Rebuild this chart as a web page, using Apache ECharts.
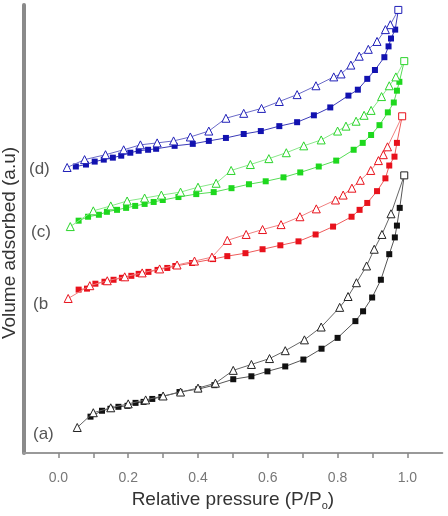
<!DOCTYPE html>
<html lang="en">
<head>
  <meta charset="UTF-8" />
  <title>Isotherms</title>
  <script src="https://cdn.jsdelivr.net/npm/echarts@6/dist/echarts.min.js"></script>
  <style>
    body { margin: 0; background: #fff; }
    #chart { width: 448px; height: 516px; }
  </style>
</head>
<body>
  <div id="chart"></div>
  <script>
    // (a) black
    const aAdsP = [0.092,0.125,0.149,0.172,0.198,0.221,0.244,0.269,0.295,0.347,0.401,0.447,0.501,0.553,0.599,0.650,0.702,0.754,0.800,0.851,0.873,0.899,0.924,0.948,0.964,0.970,0.978,0.991];
    const aAdsV = [37,43,45,47,48,51,52,55,57,62,65,69,75,78,83,88,95,106,117,134,144,158,176,202,219,231,249,282];
    const aDesP = [0.991,0.953,0.927,0.905,0.883,0.854,0.830,0.806,0.753,0.705,0.650,0.605,0.553,0.501,0.450,0.400,0.350,0.300,0.250,0.200,0.150,0.100,0.054];
    const aDesV = [282,243,222,207,190,173,159,148,128,115,104,96,90,84,71,66,62,58,54,50,46,41,26];

    // (b) red
    const bAdsP = [0.058,0.082,0.106,0.132,0.158,0.182,0.209,0.230,0.258,0.284,0.312,0.335,0.383,0.443,0.484,0.536,0.585,0.636,0.688,0.737,0.787,0.840,0.863,0.885,0.913,0.937,0.948,0.963,0.970,0.985];
    const bAdsV = [166,167,172,174,176,178,180,182,184,186,188,190,193,197,200,203,207,211,215,222,230,240,247,254,266,279,292,301,315,342];
    const bDesP = [0.985,0.943,0.931,0.917,0.895,0.865,0.841,0.816,0.794,0.739,0.692,0.638,0.585,0.538,0.484,0.440,0.390,0.340,0.290,0.240,0.190,0.140,0.090,0.028];
    const bDesV = [342,311,303,297,287,277,269,262,257,248,240,232,227,222,216,199,195,191,187,183,179,175,170,157];

    // (c) green
    const cAdsP = [0.058,0.085,0.116,0.139,0.168,0.194,0.220,0.247,0.273,0.299,0.344,0.395,0.445,0.496,0.546,0.594,0.645,0.693,0.746,0.796,0.846,0.872,0.896,0.920,0.944,0.961,0.970,0.977,0.991];
    const cAdsV = [236,240,242,245,247,249,251,253,255,257,260,263,265,269,273,276,280,285,291,297,308,315,323,333,346,356,368,377,398];
    const cDesP = [0.991,0.967,0.948,0.926,0.896,0.876,0.853,0.824,0.800,0.753,0.703,0.653,0.603,0.550,0.495,0.452,0.400,0.350,0.295,0.247,0.197,0.150,0.100,0.034];
    const cDesV = [398,382,373,362,348,343,337,332,327,318,312,305,299,293,287,274,270,265,262,259,256,251,246,230];

    // (d) blue
    const dAdsP = [0.050,0.079,0.104,0.130,0.156,0.180,0.206,0.230,0.257,0.280,0.333,0.385,0.431,0.480,0.531,0.580,0.633,0.684,0.732,0.779,0.831,0.858,0.885,0.907,0.934,0.946,0.953,0.965,0.974];
    const dAdsV = [291,293,296,298,300,302,305,307,308,309,312,314,317,320,324,327,332,336,343,351,363,369,380,389,402,413,421,430,450];
    const dDesP = [0.974,0.951,0.937,0.913,0.888,0.862,0.838,0.810,0.789,0.738,0.684,0.633,0.582,0.531,0.480,0.431,0.378,0.330,0.283,0.235,0.187,0.135,0.075,0.025];
    const dDesV = [450,435,430,418,410,403,394,385,382,373,364,357,350,345,340,327,321,317,315,313,308,303,298,290];

    const tickValues = [0, 0.1, 0.2, 0.3, 0.4, 0.5, 0.6, 0.7, 0.8, 0.9, 1.0];
    const labelValues = [0, 0.2, 0.4, 0.6, 0.8, 1.0];
    const curveLabels = ['(a)', '(b', '(c)', '(d)'];

    const chart = echarts.init(document.getElementById('chart'));

    function pairs(px, vy) {
      return px.map((p, i) => [p, vy[i]]);
    }

    function adsSeries(px, vy, color, lineColor) {
      return {
        type: 'line',
        data: pairs(px, vy),
        symbol: 'rect',
        symbolSize: 6,
        itemStyle: { color: color },
        lineStyle: { color: lineColor, width: 1 },
        z: 3
      };
    }

    function desSeries(px, vy, color, lineColor) {
      const data = pairs(px, vy).map((d, i) => i === 0
        ? { value: d, symbol: 'rect', symbolSize: 7 }
        : d);
      return {
        type: 'line',
        data: data,
        symbol: 'triangle',
        symbolSize: 8,
        itemStyle: { color: '#fff', borderColor: color, borderWidth: 1 },
        lineStyle: { color: lineColor, width: 1 },
        z: 4
      };
    }

    const labelFont = '17px "Liberation Sans", Arial, sans-serif';

    chart.setOption({
      animation: false,
      grid: { left: 23.5, right: 5.7, top: 5, bottom: 56 },
      xAxis: {
        type: 'value',
        min: -0.1,
        max: 1.1,
        interval: 0.1,
        name: 'Relative pressure (P/P{sub|o})',
        nameLocation: 'middle',
        nameGap: 34,
        nameTextStyle: {
          color: '#333',
          fontSize: 19,
          fontFamily: 'Liberation Sans',
          rich: { sub: { fontSize: 11, padding: [12, 0, 0, 0], color: '#333' } }
        },
        axisLine: { onZero: false, lineStyle: { color: '#999', width: 2 } },
        axisTick: { show: true, length: 5, customValues: tickValues, lineStyle: { color: '#888', width: 1.5 } },
        axisLabel: {
          customValues: labelValues,
          formatter: v => v.toFixed(1),
          color: '#777',
          fontSize: 14,
          fontFamily: 'Liberation Sans',
          margin: 18
        },
        splitLine: { show: false }
      },
      yAxis: {
        type: 'value',
        min: 0,
        max: 455,
        axisLine: { show: true, onZero: false, lineStyle: { color: '#8a8a8a', width: 4 } },
        axisTick: { show: false },
        axisLabel: { show: false },
        splitLine: { show: false }
      },
      series: [
        adsSeries(aAdsP, aAdsV, '#111', '#555'),
        desSeries(aDesP, aDesV, '#222', '#666'),
        adsSeries(bAdsP, bAdsV, '#e8121c', '#ee5a5a'),
        desSeries(bDesP, bDesV, '#e8121c', '#f08080'),
        adsSeries(cAdsP, cAdsV, '#1ed81e', '#55dd55'),
        desSeries(cDesP, cDesV, '#2ad42a', '#88e888'),
        adsSeries(dAdsP, dAdsV, '#1212b0', '#3a3ab8'),
        desSeries(dDesP, dDesV, '#2020b8', '#6a6ac8')
      ],
      graphic: [
        {
          type: 'text', x: 10, y: 243, rotation: Math.PI / 2,
          style: {
            text: 'Volume adsorbed (a.u)', font: '19px "Liberation Sans", Arial, sans-serif',
            fill: '#333', align: 'center', verticalAlign: 'middle'
          }
        },
        { type: 'text', x: 33, y: 426, style: { text: curveLabels[0], font: labelFont, fill: '#555' } },
        { type: 'text', x: 33, y: 296, style: { text: curveLabels[1], font: labelFont, fill: '#555' } },
        { type: 'text', x: 31, y: 224, style: { text: curveLabels[2], font: labelFont, fill: '#555' } },
        { type: 'text', x: 29, y: 161, style: { text: curveLabels[3], font: labelFont, fill: '#555' } }
      ]
    });
  </script>
</body>
</html>
